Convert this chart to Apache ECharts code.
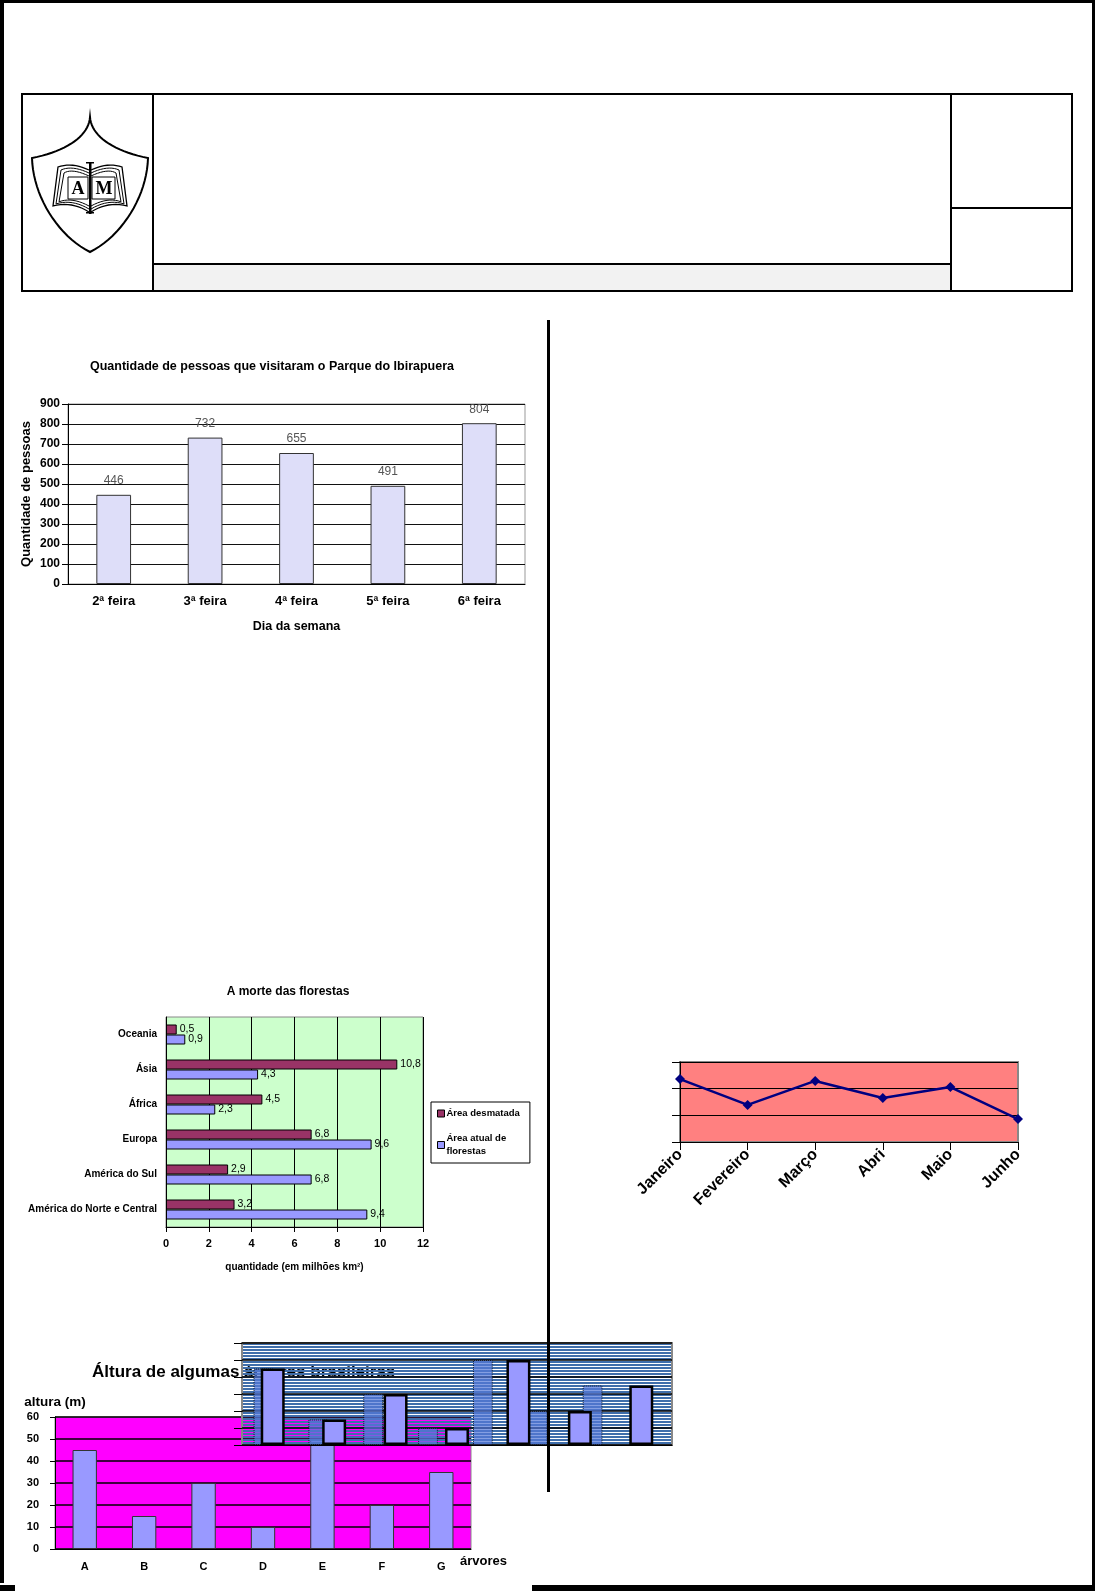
<!DOCTYPE html>
<html>
<head>
<meta charset="utf-8">
<script src="https://cdn.jsdelivr.net/npm/echarts@6/dist/echarts.min.js"></script>
<style>
html,body{margin:0;padding:0;background:#fff;}
#c{width:1095px;height:1591px;}
</style>
</head>
<body>
<div id="c"></div>
<script>
// ---------- data ----------
const dias = ['2ª feira', '3ª feira', '4ª feira', '5ª feira', '6ª feira'];
const visitantes = [446, 732, 655, 491, 804];

const continentes = ['América do Norte e Central', 'América do Sul', 'Europa', 'África', 'Ásia', 'Oceania'];
const areaDesmatada = [3.2, 2.9, 6.8, 4.5, 10.8, 0.5];
const areaAtual = [9.4, 6.8, 9.6, 2.3, 4.3, 0.9];

const meses = ['Janeiro', 'Fevereiro', 'Março', 'Abri', 'Maio', 'Junho'];
const valoresMes = [23.6, 13.9, 22.9, 16.5, 20.6, 8.6];

const arvores = ['A', 'B', 'C', 'D', 'E', 'F', 'G'];
const alturas = [45, 15, 30, 10, 50, 20, 35];

// ---------- helpers for the logo outline ----------
function cubic(p0, p1, p2, p3, n) {
  const pts = [];
  for (let i = 0; i <= n; i++) {
    const t = i / n, u = 1 - t;
    pts.push([u*u*u*p0[0] + 3*u*u*t*p1[0] + 3*u*t*t*p2[0] + t*t*t*p3[0],
              u*u*u*p0[1] + 3*u*u*t*p1[1] + 3*u*t*t*p2[1] + t*t*t*p3[1]]);
  }
  return pts;
}
function quad(p0, p1, p2, n) {
  const pts = [];
  for (let i = 0; i <= n; i++) {
    const t = i / n, u = 1 - t;
    pts.push([u*u*p0[0] + 2*u*t*p1[0] + t*t*p2[0], u*u*p0[1] + 2*u*t*p1[1] + t*t*p2[1]]);
  }
  return pts;
}
const shieldPts = [].concat(
  cubic([90,117],[89,135],[68,151],[32,158],20),
  cubic([32,158],[33,196],[58,236],[90,252],20),
  cubic([90,252],[122,236],[147,196],[148,158],20),
  cubic([148,158],[112,151],[91,135],[90,117],20)
);
function pageLine(dir, k) {
  const o = 3 * k;
  const top = quad([90 - dir, 170 + o], [90 - dir * 18, 162 + o], [90 - dir * (32 - o), 167 + o], 10);
  const bot = quad([90 - dir * (37 - o), 206 - o * 0.7], [90 - dir * 18, 201 - o * 0.7], [90 - dir, 212 - o], 10);
  return top.concat(bot);
}

// ---------- chart ----------
const F = "'Liberation Sans', Arial, sans-serif";
const chart = echarts.init(document.getElementById('c'), null, {renderer: 'canvas'});
const comma = p => String(p.value).replace('.', ',');

const logo = [
  {type: 'polygon', shape: {points: shieldPts}, style: {fill: '#fff', stroke: '#000', lineWidth: 2}}
];
for (let k = 0; k < 3; k++) {
  logo.push({type: 'polyline', shape: {points: pageLine(1, k)}, style: {fill: 'none', stroke: '#000', lineWidth: k === 0 ? 1.3 : 1}});
  logo.push({type: 'polyline', shape: {points: pageLine(-1, k)}, style: {fill: 'none', stroke: '#000', lineWidth: k === 0 ? 1.3 : 1}});
}
logo.push(
  {type: 'rect', shape: {x: 68, y: 177, width: 20, height: 22}, style: {fill: 'none', stroke: '#000', lineWidth: 1}},
  {type: 'rect', shape: {x: 92, y: 177, width: 23, height: 22}, style: {fill: 'none', stroke: '#000', lineWidth: 1}},
  {type: 'rect', shape: {x: 89, y: 162, width: 2.5, height: 52}, style: {fill: '#000'}},
  {type: 'rect', shape: {x: 86, y: 162, width: 8, height: 1.5}, style: {fill: '#000'}},
  {type: 'rect', shape: {x: 86, y: 212, width: 8, height: 1.5}, style: {fill: '#000'}},
  {type: 'text', x: 78, y: 189, style: {text: 'A', font: 'bold 18px "Liberation Serif", serif', fill: '#000', align: 'center', verticalAlign: 'middle'}},
  {type: 'text', x: 104, y: 189, style: {text: 'M', font: 'bold 18px "Liberation Serif", serif', fill: '#000', align: 'center', verticalAlign: 'middle'}}
);

const option = {
  animation: false,
  backgroundColor: '#fff',
  textStyle: {fontFamily: F},
  title: [
    {text: 'Quantidade de pessoas que visitaram o Parque do Ibirapuera', left: 267, top: 362, textAlign: 'center', textVerticalAlign: 'middle',
     textStyle: {fontFamily: F, fontSize: 12.5, fontWeight: 'bold', color: '#000'}},
    {text: 'A morte das florestas', left: 283, top: 987, textAlign: 'center', textVerticalAlign: 'middle',
     textStyle: {fontFamily: F, fontSize: 12, fontWeight: 'bold', color: '#000'}}
  ],
  legend: {
    data: ['Área desmatada', 'Área atual de\nflorestas'],
    orient: 'vertical', left: 431, top: 1102, width: 100,
    backgroundColor: '#fff', borderColor: '#000', borderWidth: 1,
    padding: [5, 10, 5, 6], itemGap: 12, itemWidth: 7, itemHeight: 7,
    icon: 'rect',
    itemStyle: {borderColor: '#000', borderWidth: 1},
    textStyle: {fontFamily: F, fontSize: 9.5, fontWeight: 'bold', color: '#000', padding: [0, 0, 0, -3], lineHeight: 13}
  },
  grid: [
    {left: 68, top: 404, width: 457, height: 180, show: true, backgroundColor: '#fff', borderColor: '#999', borderWidth: 1},
    {left: 166, top: 1017, width: 257, height: 210, show: true, backgroundColor: '#ccffcc', borderColor: '#888', borderWidth: 1},
    {left: 680, top: 1062, width: 338, height: 80, show: true, backgroundColor: '#ff8080', borderColor: '#888', borderWidth: 2},
    {left: 55, top: 1417, width: 416, height: 132, show: true, backgroundColor: '#ff00ff', borderColor: '#888', borderWidth: 1, z: 0},
    {left: 242, top: 1343, width: 430, height: 102, show: true, backgroundColor: 'transparent', borderColor: '#888', borderWidth: 2, z: 4},
    {left: 236, top: 1343, width: 384, height: 102, show: false}
  ],
  xAxis: [
    {gridIndex: 0, type: 'category', data: dias,
     axisLine: {lineStyle: {color: '#000'}}, axisTick: {length: 5, lineStyle: {color: '#000'}},
     axisLabel: {color: '#000', fontWeight: 'bold', fontSize: 13, margin: 11, fontFamily: F},
     name: 'Dia da semana', nameLocation: 'middle', nameGap: 36,
     nameTextStyle: {color: '#000', fontWeight: 'bold', fontSize: 12.5, fontFamily: F}},
    {gridIndex: 1, type: 'value', min: 0, max: 12, interval: 2,
     axisLine: {show: true, lineStyle: {color: '#000'}}, axisTick: {show: true, length: 5, lineStyle: {color: '#000'}},
     splitLine: {lineStyle: {color: '#000'}},
     axisLabel: {color: '#000', fontWeight: 'bold', fontSize: 11, margin: 11, fontFamily: F},
     name: 'quantidade (em milhões km²)', nameLocation: 'middle', nameGap: 35,
     nameTextStyle: {color: '#000', fontWeight: 'bold', fontSize: 10, fontFamily: F}},
    {gridIndex: 2, type: 'category', data: meses, boundaryGap: false,
     axisLine: {lineStyle: {color: '#000'}}, axisTick: {length: 8, lineStyle: {color: '#000'}},
     axisLabel: {color: '#000', fontWeight: 'bold', fontSize: 16, rotate: 45, margin: 10, fontFamily: F, interval: 0}},
    {gridIndex: 3, type: 'category', data: arvores,
     axisLine: {lineStyle: {color: '#000'}}, axisTick: {length: 5, lineStyle: {color: '#000'}},
     axisLabel: {color: '#000', fontWeight: 'bold', fontSize: 11, margin: 12, fontFamily: F},
     name: 'árvores', nameLocation: 'end', nameGap: -11,
     nameTextStyle: {color: '#000', fontWeight: 'bold', fontSize: 13, fontFamily: F, align: 'left', verticalAlign: 'top', padding: [6, 0, 0, 0]}},
    {gridIndex: 4, type: 'category', data: arvores, z: 4,
     axisLine: {lineStyle: {color: '#000'}}, axisTick: {length: 7, lineStyle: {color: '#000'}},
     axisLabel: {show: false}},
    {gridIndex: 5, type: 'category', data: arvores, z: 4,
     axisLine: {show: false}, axisTick: {length: 6, lineStyle: {color: '#000'}},
     axisLabel: {show: false}}
  ],
  yAxis: [
    {gridIndex: 0, type: 'value', min: 0, max: 900, interval: 100,
     axisLine: {show: true, lineStyle: {color: '#000'}}, axisTick: {show: true, length: 6, lineStyle: {color: '#000'}},
     splitLine: {lineStyle: {color: '#111'}},
     axisLabel: {color: '#000', fontWeight: 'bold', fontSize: 12, margin: 8, fontFamily: F},
     name: 'Quantidade de pessoas', nameLocation: 'middle', nameRotate: 90, nameGap: 35,
     nameTextStyle: {color: '#000', fontWeight: 'bold', fontSize: 13, fontFamily: F}},
    {gridIndex: 1, type: 'category', data: continentes,
     axisLine: {lineStyle: {color: '#000'}}, axisTick: {length: 5, lineStyle: {color: '#000'}},
     axisLabel: {color: '#000', fontWeight: 'bold', fontSize: 10, margin: 9, fontFamily: F}},
    {gridIndex: 2, type: 'value', min: 0, max: 30, interval: 10,
     axisLine: {show: true, lineStyle: {color: '#000'}}, axisTick: {show: true, length: 8, lineStyle: {color: '#000'}},
     splitLine: {lineStyle: {color: '#000'}}, axisLabel: {show: false}},
    {gridIndex: 3, type: 'value', min: 0, max: 60, interval: 10,
     axisLine: {show: true, lineStyle: {color: '#000'}}, axisTick: {show: true, length: 5, lineStyle: {color: '#000'}},
     splitLine: {lineStyle: {color: '#000', width: 1.5}},
     axisLabel: {color: '#000', fontWeight: 'bold', fontSize: 11, margin: 16, fontFamily: F},
     name: 'altura (m)', nameLocation: 'end', nameGap: 15,
     nameTextStyle: {color: '#000', fontWeight: 'bold', fontSize: 13.5, fontFamily: F, align: 'center', verticalAlign: 'middle'}},
    {gridIndex: 4, type: 'value', min: 0, max: 60, interval: 10, z: 4,
     axisLine: {show: false}, axisTick: {show: true, length: 8, lineStyle: {color: '#000'}},
     splitLine: {lineStyle: {color: '#000', width: 1.5}}, axisLabel: {show: false}},
    {gridIndex: 5, type: 'value', min: 0, max: 60, interval: 10, show: false}
  ],
  series: [
    {type: 'bar', xAxisIndex: 0, yAxisIndex: 0, data: visitantes, barWidth: '38%',
     itemStyle: {color: '#dedef9', borderColor: '#333', borderWidth: 1},
     label: {show: true, position: 'top', distance: 8, color: '#555', fontSize: 12, fontFamily: F}},
    {type: 'bar', name: 'Área desmatada', xAxisIndex: 1, yAxisIndex: 1, data: areaDesmatada, barWidth: 10, barGap: '0%',
     itemStyle: {color: '#993366', borderColor: '#000', borderWidth: 1},
     label: {show: true, position: 'right', distance: 3, color: '#000', fontSize: 10.5, fontFamily: F, formatter: comma}},
    {type: 'bar', name: 'Área atual de\nflorestas', xAxisIndex: 1, yAxisIndex: 1, data: areaAtual, barWidth: 10, barGap: '0%',
     itemStyle: {color: '#9999ff', borderColor: '#000', borderWidth: 1},
     label: {show: true, position: 'right', distance: 3, color: '#000', fontSize: 10.5, fontFamily: F, formatter: comma}},
    {type: 'line', xAxisIndex: 2, yAxisIndex: 2, data: valoresMes,
     lineStyle: {color: '#000080', width: 2.5}, itemStyle: {color: '#000080'},
     symbol: 'diamond', symbolSize: 10},
    {type: 'bar', xAxisIndex: 3, yAxisIndex: 3, data: alturas, barWidth: '41%', z: 1,
     itemStyle: {color: '#9999ff', borderColor: '#333', borderWidth: 1}},
    // striped overlay background (decoration drawn from the overlay grid's rect)
    {type: 'custom', xAxisIndex: 4, yAxisIndex: 4, data: [0], z: 3, silent: true, clip: false,
     renderItem: function (params) {
       const cs = params.coordSys;
       const children = [];
       for (let yy = cs.y; yy < cs.y + cs.height; yy += 3) {
         children.push({type: 'rect', shape: {x: cs.x, y: yy, width: cs.width, height: 2}, style: {fill: '#3f6eab'}});
       }
       return {type: 'group', children: children};
     }},
    {type: 'bar', xAxisIndex: 5, yAxisIndex: 5, data: alturas, barWidth: '36%', z: 5,
     itemStyle: {color: 'rgba(85,120,215,0.72)', borderColor: 'rgba(0,0,0,0.75)', borderWidth: 1, borderType: 'dotted'}},
    {type: 'bar', xAxisIndex: 4, yAxisIndex: 4, data: alturas, barWidth: '39%', z: 6,
     itemStyle: {color: '#9999ff', borderColor: '#000', borderWidth: 2.5}}
  ],
  graphic: [
    // page frame
    {type: 'rect', z: 30, shape: {x: 0, y: 0, width: 1095, height: 3}, style: {fill: '#000'}},
    {type: 'rect', z: 30, shape: {x: 0, y: 0, width: 4, height: 1583}, style: {fill: '#000'}},
    {type: 'rect', z: 30, shape: {x: 1092, y: 0, width: 3, height: 1591}, style: {fill: '#000'}},
    {type: 'rect', z: 30, shape: {x: 0, y: 1585, width: 15, height: 6}, style: {fill: '#000'}},
    {type: 'rect', z: 30, shape: {x: 532, y: 1585, width: 563, height: 6}, style: {fill: '#000'}},
    // header table
    {type: 'rect', shape: {x: 153, y: 264, width: 798, height: 27}, style: {fill: '#f2f2f2'}},
    {type: 'rect', shape: {x: 22, y: 94, width: 1050, height: 197}, style: {fill: 'none', stroke: '#000', lineWidth: 2}},
    {type: 'line', shape: {x1: 153, y1: 94, x2: 153, y2: 291}, style: {stroke: '#000', lineWidth: 2}},
    {type: 'line', shape: {x1: 951, y1: 94, x2: 951, y2: 291}, style: {stroke: '#000', lineWidth: 2}},
    {type: 'line', shape: {x1: 951, y1: 208, x2: 1072, y2: 208}, style: {stroke: '#000', lineWidth: 2}},
    {type: 'line', shape: {x1: 153, y1: 264, x2: 951, y2: 264}, style: {stroke: '#000', lineWidth: 2}},
    // column divider
    {type: 'rect', z: 30, shape: {x: 547, y: 320, width: 3, height: 1172}, style: {fill: '#000'}},
    // title of the tree chart (sits beneath the striped overlay)
    {type: 'text', z: 1, x: 92, y: 1372, style: {text: 'Áltura de algumas árvores brasileiras', font: 'bold 17px ' + F, fill: '#000', verticalAlign: 'middle'}}
  ].concat(logo)
};
chart.setOption(option);
</script>
</body>
</html>
